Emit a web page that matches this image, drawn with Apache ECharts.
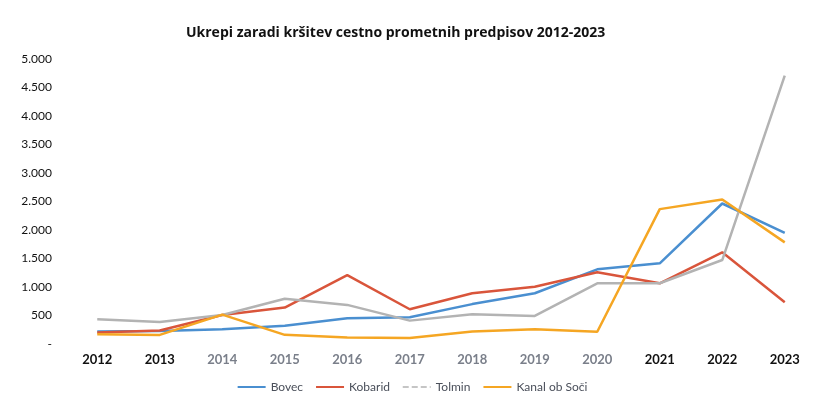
<!DOCTYPE html>
<html>
<head>
<meta charset="utf-8">
<script src="https://cdn.jsdelivr.net/npm/echarts@6/dist/echarts.min.js"></script>
<style>
  html, body { margin: 0; padding: 0; background: #fff; }
  #chart { width: 824px; height: 401px; }
</style>
</head>
<body>
<div id="chart"></div>
<script>
// leta
var years = ['2012', '2013', '2014', '2015', '2016', '2017', '2018', '2019', '2020', '2021', '2022', '2023'];
// ukrepi po občinah
var bovec = [220, 230, 260, 320, 450, 470, 700, 890, 1310, 1415, 2465, 1950];
var kobarid = [200, 236, 510, 640, 1210, 610, 890, 1005, 1258, 1065, 1608, 733];
var tolmin = [435, 385, 510, 795, 686, 410, 523, 493, 1065, 1065, 1473, 4710];
var kanal = [170, 160, 515, 161, 114, 105, 219, 260, 214, 2366, 2535, 1783];
// barve letnic (skeniran izvirnik ima nekatere svetlejše)
var darkYears = ['2012', '2013', '2021', '2022', '2023'];

var font = 'Lato, "Open Sans", sans-serif';

var myChart = echarts.init(document.getElementById('chart'));

function lineSeries(name, data, color) {
  return {
    name: name,
    type: 'line',
    data: data,
    symbol: 'none',
    lineStyle: { width: 2.5, color: color },
    itemStyle: { color: color },
    animation: false
  };
}

var option = {
  backgroundColor: '#fff',
  title: {
    text: 'Ukrepi zaradi kršitev cestno prometnih predpisov 2012-2023',
    left: 181,
    top: 21,
    textStyle: { fontFamily: '"Open Sans", Lato, sans-serif', fontSize: 14, fontWeight: 'bold', color: '#111' }
  },
  legend: {
    bottom: 3,
    left: 'center',
    itemWidth: 28,
    itemHeight: 10,
    itemGap: 12,
    itemStyle: { opacity: 0 },
    textStyle: { fontFamily: font, fontSize: 12, color: '#4a4f5a' },
    data: [
      { name: 'Bovec' },
      { name: 'Kobarid' },
      { name: 'Tolmin', lineStyle: { type: 'dashed', width: 1.5 } },
      { name: 'Kanal ob Soči' }
    ]
  },
  grid: { left: 66, right: 8, top: 59, bottom: 57 },
  xAxis: {
    type: 'category',
    data: years,
    boundaryGap: true,
    axisLine: { show: false },
    axisTick: { show: false },
    axisLabel: {
      margin: 9,
      fontFamily: font,
      fontSize: 13,
      fontWeight: 'bold',
      color: function (value) {
        return darkYears.indexOf(value) >= 0 ? '#111' : '#7a7f8a';
      }
    }
  },
  yAxis: {
    type: 'value',
    min: 0,
    max: 5000,
    interval: 500,
    axisLine: { show: false },
    axisTick: { show: false },
    splitLine: { show: false },
    axisLabel: {
      margin: 14,
      fontFamily: font,
      fontSize: 12,
      color: '#111',
      formatter: function (v) {
        if (v === 0) return '-';
        return v.toLocaleString('de-DE');
      }
    }
  },
  series: [
    lineSeries('Bovec', bovec, '#4a8fd0'),
    lineSeries('Kobarid', kobarid, '#d9553b'),
    lineSeries('Tolmin', tolmin, '#b3b3b3'),
    lineSeries('Kanal ob Soči', kanal, '#f5a623')
  ]
};

myChart.setOption(option);
</script>
</body>
</html>
